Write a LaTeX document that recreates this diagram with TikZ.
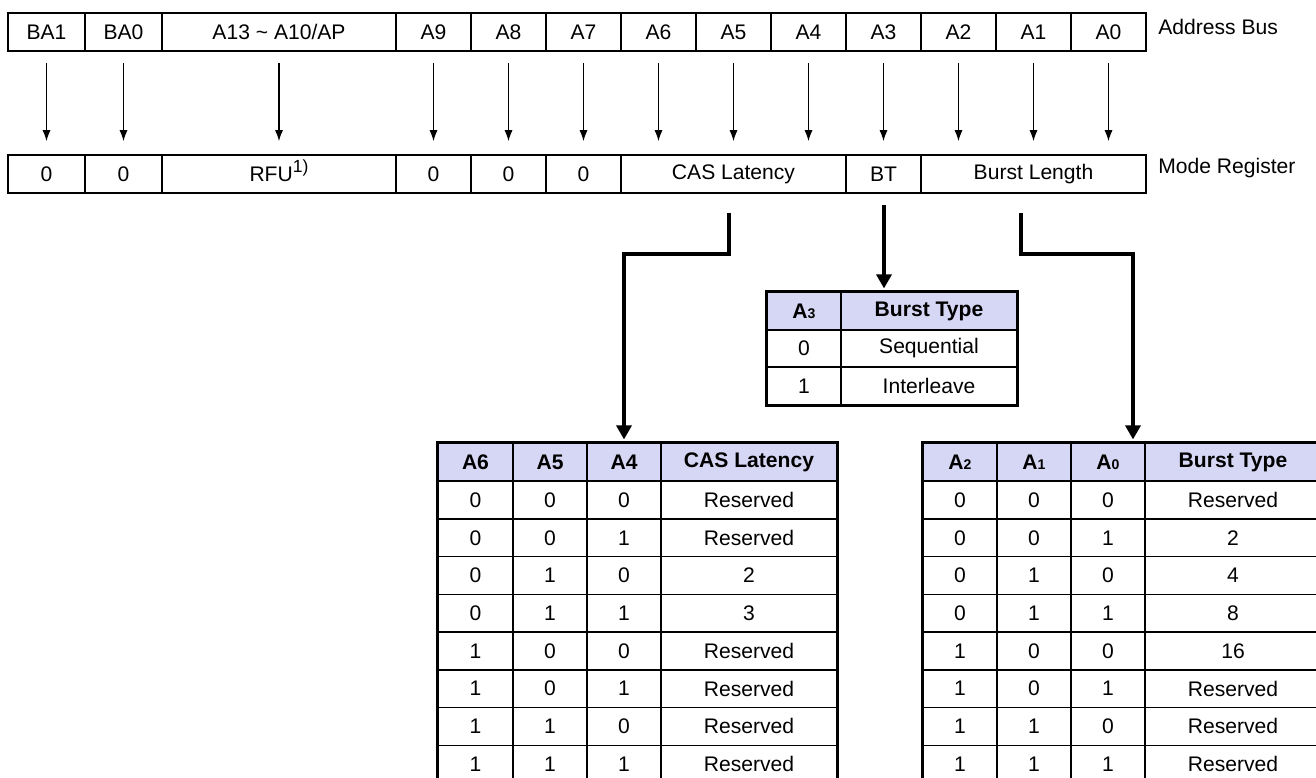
\documentclass[tikz,border=0pt]{standalone}
\usepackage{fontspec}
\setmainfont{Liberation Sans}
\usetikzlibrary{arrows.meta}
\definecolor{headfill}{RGB}{214,214,245}
\tikzset{
	field/.style={draw, line width=0.9pt, minimum height=0.76cm, inner sep=0pt,
			font=\fontsize{12}{14}\selectfont},
	tcell/.style={draw, line width=0.8pt, minimum height=0.754cm, inner sep=0pt,
			font=\fontsize{12}{14}\selectfont},
	hcell/.style={tcell, fill=headfill, font=\fontsize{12}{14}\selectfont\bfseries},
	tframe/.style={draw, line width=1.5pt},
	bitarrow/.style={-{Latex[length=6.3pt,width=4.6pt]}, line width=0.8pt,
			shorten <=0.22cm, shorten >=0.26cm},
	fieldarrow/.style={-{Triangle[length=8pt,width=8.5pt]}, line width=2.8pt,
			shorten >=0.06cm},
	sidelabel/.style={anchor=west, inner sep=0pt, font=\fontsize{12}{14}\selectfont}
}
\newcommand{\sub}[1]{{\fontsize{8}{8}\selectfont #1}}

\begin{document}
\begin{tikzpicture}[x=0.02cm, y=-0.02cm]
        \useasboundingbox (0,0) rectangle (1316,778);
        \clip (0,0) rectangle (1316,778);
        % address bus
        \node[field, minimum width=1.54cm] (bus_BA1) at (46.5, 32) {BA1};
        \node[field, minimum width=1.54cm] (bus_BA0) at (123.5, 32) {BA0};
        \node[field, minimum width=4.68cm] (bus_A13) at (279, 32) {A13 \textasciitilde{} A10/AP};
        \node[field, minimum width=1.5cm] (bus_A9) at (433.5, 32) {A9};
        \node[field, minimum width=1.5cm] (bus_A8) at (508.5, 32) {A8};
        \node[field, minimum width=1.5cm] (bus_A7) at (583.5, 32) {A7};
        \node[field, minimum width=1.5cm] (bus_A6) at (658.5, 32) {A6};
        \node[field, minimum width=1.5cm] (bus_A5) at (733.5, 32) {A5};
        \node[field, minimum width=1.5cm] (bus_A4) at (808.5, 32) {A4};
        \node[field, minimum width=1.5cm] (bus_A3) at (883.5, 32) {A3};
        \node[field, minimum width=1.5cm] (bus_A2) at (958.5, 32) {A2};
        \node[field, minimum width=1.5cm] (bus_A1) at (1033.5, 32) {A1};
        \node[field, minimum width=1.5cm] (bus_A0) at (1108.5, 32) {A0};
        \node[sidelabel] (bus_label) at (1158, 27) {Address Bus};
        % mode register
        \node[field, minimum width=1.54cm] (reg_BA1) at (46.5, 174) {0};
        \node[field, minimum width=1.54cm] (reg_BA0) at (123.5, 174) {0};
        \node[field, minimum width=4.68cm] (reg_RFU) at (279, 174) {RFU\smash{\fontsize{10}{10}\selectfont\raisebox{0.9ex}{1)}}};
        \node[field, minimum width=1.5cm] (reg_A9) at (433.5, 174) {0};
        \node[field, minimum width=1.5cm] (reg_A8) at (508.5, 174) {0};
        \node[field, minimum width=1.5cm] (reg_A7) at (583.5, 174) {0};
        \node[field, minimum width=4.5cm] (reg_CAS) at (733.5, 174) {CAS Latency};
        \node[field, minimum width=1.5cm] (reg_BT) at (883.5, 174) {BT};
        \node[field, minimum width=4.5cm] (reg_BL) at (1033.5, 174) {Burst Length};
        \node[sidelabel] (reg_label) at (1158, 168) {Mode Register};
        % bit arrows
        \foreach \b in {BA1,BA0,A13,A9,A8,A7,A6,A5,A4,A3,A2,A1,A0}
            \draw[bitarrow] (bus_\b.south) -- (bus_\b.south |- reg_RFU.north);
        % burst type table
        \node[hcell, minimum width=1.48cm] (bt_h1) at (804, 311) {A\sub{3}};
        \node[hcell, minimum width=3.52cm] (bt_h2) at (929, 311) {Burst Type};
        \node[tcell, minimum width=1.48cm] (bt_1_1) at (804, 348.5) {0};
        \node[tcell, minimum width=3.52cm] (bt_1_2) at (929, 348.5) {Sequential};
        \node[tcell, minimum width=1.48cm] (bt_2_1) at (804, 386) {1};
        \node[tcell, minimum width=3.52cm] (bt_2_2) at (929, 386) {Interleave};
        \draw[tframe] (bt_h1.north west) rectangle (bt_2_2.south east);
        % cas latency table
        \node[hcell, minimum width=1.5cm] (cas_h1) at (475.5, 462) {A6};
        \node[hcell, minimum width=1.48cm] (cas_h2) at (550, 462) {A5};
        \node[hcell, minimum width=1.48cm] (cas_h3) at (624, 462) {A4};
        \node[hcell, minimum width=3.52cm] (cas_h4) at (749, 462) {CAS Latency};
        \foreach \a/\b/\c/\v [count=\r] in {0/0/0/Reserved, 0/0/1/Reserved, 0/1/0/2, 0/1/1/3,
                1/0/0/Reserved, 1/0/1/Reserved, 1/1/0/Reserved, 1/1/1/Reserved} {
            \node[tcell, minimum width=1.5cm] (cas_\r_1) at (475.5, 462.5+37.7*\r) {\a};
            \node[tcell, minimum width=1.48cm] (cas_\r_2) at (550, 462.5+37.7*\r) {\b};
            \node[tcell, minimum width=1.48cm] (cas_\r_3) at (624, 462.5+37.7*\r) {\c};
            \node[tcell, minimum width=3.52cm] (cas_\r_4) at (749, 462.5+37.7*\r) {\v};
        }
        \draw[tframe] (cas_h1.north west) rectangle (cas_8_4.south east);
        % burst length table
        \node[hcell, minimum width=1.48cm] (bl_h1) at (960, 462) {A\sub{2}};
        \node[hcell, minimum width=1.48cm] (bl_h2) at (1034, 462) {A\sub{1}};
        \node[hcell, minimum width=1.48cm] (bl_h3) at (1108, 462) {A\sub{0}};
        \node[hcell, minimum width=3.52cm] (bl_h4) at (1233, 462) {Burst Type};
        \foreach \a/\b/\c/\v [count=\r] in {0/0/0/Reserved, 0/0/1/2, 0/1/0/4, 0/1/1/8,
                1/0/0/16, 1/0/1/Reserved, 1/1/0/Reserved, 1/1/1/Reserved} {
            \node[tcell, minimum width=1.48cm] (bl_\r_1) at (960, 462.5+37.7*\r) {\a};
            \node[tcell, minimum width=1.48cm] (bl_\r_2) at (1034, 462.5+37.7*\r) {\b};
            \node[tcell, minimum width=1.48cm] (bl_\r_3) at (1108, 462.5+37.7*\r) {\c};
            \node[tcell, minimum width=3.52cm] (bl_\r_4) at (1233, 462.5+37.7*\r) {\v};
        }
        \draw[tframe] (bl_h1.north west) rectangle (bl_8_4.south east);
        % field arrows
        \coordinate (cas_top) at (729, 213);
        \coordinate (cas_mid) at (729, 254);
        \coordinate (bt_top) at (884, 205);
        \coordinate (bl_top) at (1021, 213);
        \coordinate (bl_mid) at (1021, 254);
        \draw[fieldarrow] (cas_top) -- (cas_mid) -| (cas_h3.north);
        \draw[fieldarrow] (bt_top) -- (bt_top |- bt_h2.north);
        \draw[fieldarrow] (bl_top) -- (bl_mid) -| (bl_h3.north -| 1133,0);
    \end{tikzpicture}
\end{document}
